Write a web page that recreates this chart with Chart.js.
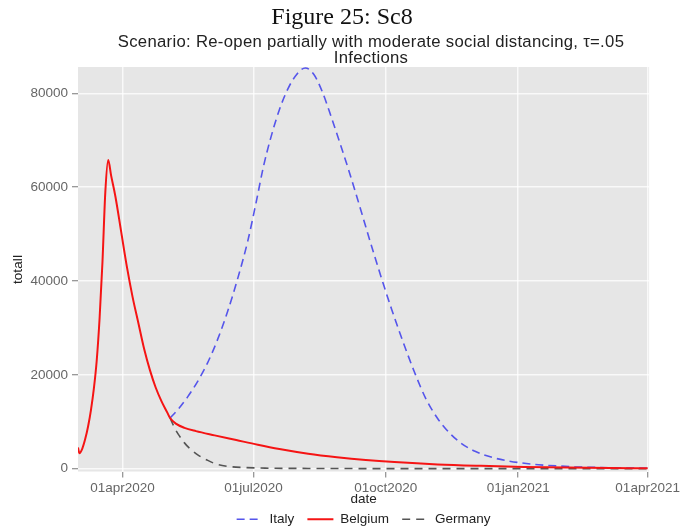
<!DOCTYPE html>
<html>
<head>
<meta charset="utf-8">
<script src="https://cdn.jsdelivr.net/npm/chart.js@4.4.1/dist/chart.umd.min.js"></script>
<style>
html, body { margin: 0; padding: 0; background: #fff; }
</style>
</head>
<body>
<canvas id="myChart" width="684" height="529"></canvas>
<script>
// x values are days counted from 01mar2020
var xTicks = [31, 122, 214, 306, 396];
var xTickLabels = ['01apr2020', '01jul2020', '01oct2020', '01jan2021', '01apr2021'];
var yTicks = [0, 20000, 40000, 60000, 80000];

var belgiumDays = [0, 1, 3, 5, 7, 9, 11, 13, 15, 17, 19, 21, 23, 26, 30, 34, 38, 42, 46, 50, 54, 58, 62, 64,
    68, 74, 82, 95, 110, 125, 140, 160, 180, 200, 220, 250, 280, 310, 340, 370, 396];
var belgiumVals = [4500, 3300, 4300, 6300, 9000, 12500, 17000, 23000, 32000, 44000, 59000, 65800, 62500, 58000, 50500, 43000, 36500, 31000, 25500, 21000, 17300, 14400, 12000, 10800,
    9600, 8700, 8000, 7100, 6100, 5100, 4200, 3200, 2450, 1850, 1400, 900, 600, 380, 240, 150, 100];

var germanyDays = [64, 67, 70, 74, 78, 84, 90, 96, 104, 115, 130, 160, 200, 250, 300, 350, 396];
var germanyVals = [10800, 8800, 7200, 5500, 4200, 2800, 1800, 1000, 500, 250, 120, 50, 20, 10, 5, 2, 0];

var italyDays = [64, 70, 76, 83, 90, 97, 104, 111, 118, 124, 129, 134, 140, 146, 152, 158, 164, 170, 176, 182, 188, 194, 200,
    206, 212, 218, 224, 229, 234, 242, 250, 258, 266, 276, 288, 300, 320, 345, 370, 396];
var italyVals = [10800, 12800, 15200, 18500, 22500, 27500, 33500, 40500, 48500, 57000, 64500, 70500, 76500, 81000, 84000, 85400, 84000, 80200, 75000, 69500, 63800, 57800, 51600,
    45500, 39600, 34000, 28700, 24500, 20500, 14800, 10700, 7700, 5500, 3700, 2400, 1600, 850, 420, 200, 100];

function pairs(xs, ys) {
    return xs.map(function (x, i) { return { x: x, y: ys[i] }; });
}

var headings = {
    id: 'headings',
    beforeDraw: function (chart) {
        var c = chart.ctx, a = chart.chartArea;
        c.save();
        c.fillStyle = '#e6e6e6';
        c.fillRect(a.left, a.top, a.right - a.left, a.bottom - a.top);
        c.restore();
    },
    afterDraw: function (chart) {
        var c = chart.ctx;
        c.save();
        c.textAlign = 'center';
        c.fillStyle = '#111';
        c.font = '24px "Liberation Serif"';
        c.textBaseline = 'alphabetic';
        c.fillText('Figure 25: Sc8', 342, 24);
        c.fillStyle = '#222';
        c.letterSpacing = '0.3px';
        c.font = '16.7px "Liberation Sans"';
        c.textBaseline = 'middle';
        c.fillText('Scenario: Re-open partially with moderate social distancing, \u03c4=.05', 371, 42);
        c.fillText('Infections', 371, 58);
        c.restore();
    }
};

var ctx = document.getElementById('myChart');
var myChart = new Chart(ctx, {
    type: 'line',
    data: {
        datasets: [
            {
                label: 'Italy',
                data: pairs(italyDays, italyVals),
                borderColor: 'rgb(85, 85, 235)',
                borderWidth: 1.6,
                borderDash: [8, 5],
                order: 2
            }, {
                label: 'Belgium',
                data: pairs(belgiumDays, belgiumVals),
                borderColor: 'rgb(245, 20, 20)',
                borderWidth: 2,
                order: 0
            }, {
                label: 'Germany',
                data: pairs(germanyDays, germanyVals),
                borderColor: 'rgb(85, 85, 85)',
                borderWidth: 1.6,
                borderDash: [8, 6],
                order: 1
            }
        ]
    },
    options: {
        responsive: false,
        animation: false,
        devicePixelRatio: 1,
        elements: {
            point: { radius: 0, pointStyle: 'line' },
            line: { cubicInterpolationMode: 'monotone', fill: false }
        },
        layout: { padding: { top: 67, right: 30, left: 0, bottom: -7 } },
        scales: {
            x: {
                type: 'linear',
                min: 0,
                max: 397,
                afterBuildTicks: function (s) { s.ticks = xTicks.map(function (v) { return { value: v }; }); },
                afterFit: function (s) { s.height = 39; },
                ticks: {
                    color: '#666',
                    font: { family: 'Liberation Sans', size: 13.5, lineHeight: 1 },
                    padding: 4,
                    maxRotation: 0,
                    callback: function (v) { return xTickLabels[xTicks.indexOf(v)]; }
                },
                grid: { color: 'rgba(255,255,255,0.75)', lineWidth: 1.5, tickColor: '#777', tickLength: 6, tickWidth: 1 },
                border: { display: false },
                title: { display: true, text: 'date', color: '#222', font: { family: 'Liberation Sans', size: 13.5, lineHeight: 1 }, padding: { top: -2, bottom: 4 } }
            },
            y: {
                min: -600,
                max: 85600,
                afterBuildTicks: function (s) { s.ticks = yTicks.map(function (v) { return { value: v }; }); },
                afterFit: function (s) { s.width = 78; },
                ticks: {
                    color: '#666',
                    font: { family: 'Liberation Sans', size: 13.5 },
                    padding: 4,
                    callback: function (v) { return String(v); }
                },
                grid: { color: 'rgba(255,255,255,0.75)', lineWidth: 1.5, tickColor: '#777', tickLength: 6, tickWidth: 1 },
                border: { display: false },
                title: { display: true, text: 'totalI', color: '#222', font: { family: 'Liberation Sans', size: 13.5 }, padding: { top: 10, bottom: 0 } }
            }
        },
        plugins: {
            legend: {
                position: 'bottom',
                fullSize: false,
                labels: {
                    usePointStyle: true,
                    pointStyle: 'line',
                    pointStyleWidth: 26,
                    boxHeight: 12,
                    padding: 2,
                    color: '#222',
                    font: { family: 'Liberation Sans', size: 13.5 },
                    generateLabels: function (chart) {
                        var items = Chart.defaults.plugins.legend.labels.generateLabels(chart);
                        items.sort(function (a, b) { return a.datasetIndex - b.datasetIndex; });
                        items.forEach(function (it, i) {
                            var ds = chart.data.datasets[it.datasetIndex];
                            it.lineDash = ds.borderDash || [];
                            it.strokeStyle = ds.borderColor;
                            it.lineWidth = ds.borderWidth;
                            if (i < items.length - 1) it.text = ds.label + '   ';
                        });
                        return items;
                    }
                }
            },
            tooltip: { enabled: false }
        }
    },
    plugins: [headings]
});
</script>
</body>
</html>
